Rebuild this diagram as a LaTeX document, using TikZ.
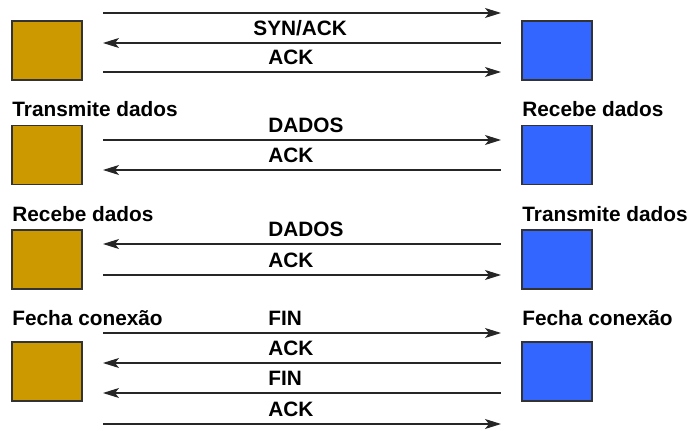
\documentclass[tikz,border=0pt]{standalone}
\usepackage{fontspec}
\setmainfont{Liberation Sans}
\usetikzlibrary{arrows.meta,positioning}
\definecolor{cliColor}{HTML}{CC9900}
\definecolor{srvColor}{HTML}{3366FF}
\tikzset{
  host/.style={draw=black!80, line width=0.6pt, minimum width=35pt, minimum height=29.5pt, inner sep=0pt},
  cli/.style={host, fill=cliColor},
  srv/.style={host, fill=srvColor},
  msg/.style={draw=black!85, line width=0.55pt, >={Stealth[length=8pt, width=5pt, inset=2pt]}},
  msglbl/.style={anchor=base west, inner sep=0pt},
  sidelbl/.style={anchor=base west, inner sep=0pt}
}
\begin{document}
\begin{tikzpicture}[x=0.5pt, y=-0.5pt, font=\fontsize{10.4}{12}\selectfont\bfseries]
  \useasboundingbox (0,0) rectangle (695,431);
  % Hosts
  \foreach \r/\y in {1/50.5, 2/155, 3/259.5, 4/371.5} {
    \node[cli] (cli\r) at (47,\y) {};
    \node[srv] (srv\r) at (557,\y) {};
  }
  % Side labels
  \node[sidelbl] (c2) at (12,117) {Transmite dados};
  \node[sidelbl] (s2) at (522,117) {Recebe dados};
  \node[sidelbl] (c3) at (12,222) {Recebe dados};
  \node[sidelbl] (s3) at (522,222) {Transmite dados};
  \node[sidelbl] (c4) at (12,326) {Fecha conexão};
  \node[sidelbl] (s4) at (522,326) {Fecha conexão};
  % Messages
  \foreach \n/\y/\tip in {1/13/->, 2/43/<-, 3/72/->, 4/140/->, 5/170/<-, 6/244/<-, 7/275/->,
                          8/333/->, 9/363/<-, 10/393/<-, 11/424/->} {
    \coordinate (l\n) at (103,\y);
    \coordinate (r\n) at (501,\y);
    \draw[msg, \tip] (l\n) -- (r\n);
  }
  \foreach \n/\dx/\txt in {2/75/{SYN/ACK}, 3/82.5/ACK, 4/82.5/DADOS, 5/82.5/ACK, 6/82.5/DADOS, 7/82.5/ACK,
                           8/82.5/FIN, 9/82.5/ACK, 10/82.5/FIN, 11/82.5/ACK}
    \node[msglbl] (t\n) at ([xshift=\dx pt, yshift=3.5pt]l\n) {\txt};
\end{tikzpicture}
\end{document}
